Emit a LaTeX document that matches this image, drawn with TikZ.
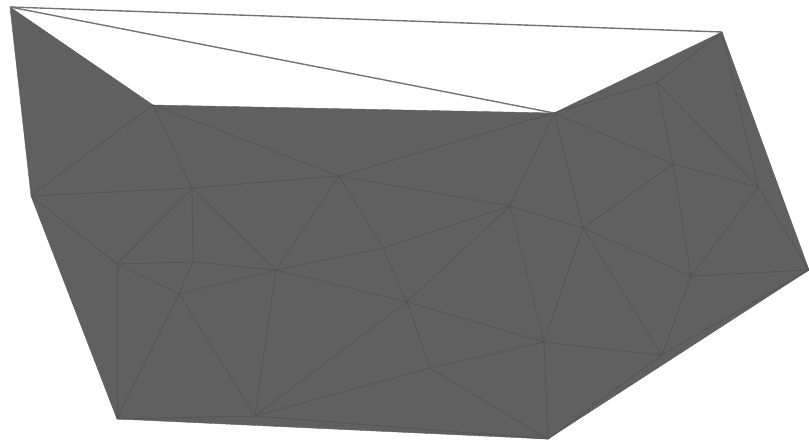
\documentclass[tikz,border=0pt]{standalone}
\usepackage{xcolor}
\definecolor{meshFill}{HTML}{606060}
\definecolor{meshEdge}{HTML}{535353}
\definecolor{meshWire}{HTML}{737373}
\begin{document}
\begin{tikzpicture}[
  x=0.75pt, y=-0.75pt,
  surface/.style={fill=meshFill,draw=meshFill,line width=0.3pt,line join=round},
  meshline/.style={draw=meshEdge,line width=0.55pt},
  wire/.style={draw=meshWire,line width=1.05pt}]
  \useasboundingbox (0,0) rectangle (809,441);
  \coordinate (a) at (10,7);
  \coordinate (b) at (722,32);
  \coordinate (c) at (554,113);
  \coordinate (d) at (153,105);
  \coordinate (e) at (31,196);
  \coordinate (f) at (192,188);
  \coordinate (g) at (339,176);
  \coordinate (h) at (510,206);
  \coordinate (i) at (583,228);
  \coordinate (j) at (657,82);
  \coordinate (k) at (758,187);
  \coordinate (l) at (809,270);
  \coordinate (m) at (691,276);
  \coordinate (n) at (662,355);
  \coordinate (o) at (544,342);
  \coordinate (p) at (548,439);
  \coordinate (q) at (430,368);
  \coordinate (r) at (255,416);
  \coordinate (s) at (117,419);
  \coordinate (t) at (117,264);
  \coordinate (u) at (193,262);
  \coordinate (v) at (179,294);
  \coordinate (w) at (276,270);
  \coordinate (x) at (383,248);
  \coordinate (y) at (407,302);
  \coordinate (z) at (673,164);
  \path[surface] (a) -- (d) -- (c) -- (b) -- (l) -- (p) -- (s) -- (e) -- cycle;
  \foreach \from/\to in {d/e,d/f,d/g,e/f,f/g,g/c,e/t,f/t,f/u,f/w,t/u,u/w,t/v,u/v,v/w,
    t/s,v/s,v/r,w/r,w/g,g/x,x/w,x/h,g/h,h/c,c/i,h/i,c/j,j/b,j/z,j/k,c/z,z/i,z/k,z/m,
    b/k,k/m,k/l,m/l,i/m,i/n,i/o,h/o,h/y,x/y,w/y,y/r,y/o,y/q,q/o,q/r,q/p,o/p,o/n,
    m/n,n/p,n/l,r/p,r/s}
    \draw[meshline] (\from) -- (\to);
  \draw[wire] (a) -- (b);
  \draw[wire] (a) -- (c);
\end{tikzpicture}
\end{document}
